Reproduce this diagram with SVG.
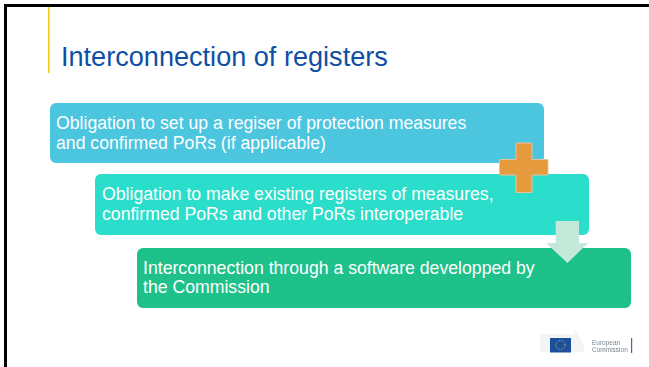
<svg xmlns="http://www.w3.org/2000/svg" width="649" height="367" viewBox="0 0 649 367">
<defs><filter id="soft" x="-5%" y="-5%" width="110%" height="110%"><feGaussianBlur stdDeviation="0.45"/></filter></defs>
<style>
text{font-family:"Liberation Sans",Arial,sans-serif}
.b{font-size:17.660px;fill:#fff}
</style>
<rect width="649" height="367" fill="#fff"/>
<path d="M5.500 367V5.500H649" fill="none" stroke="#000" stroke-width="3"/>
<rect x="48" y="7" width="1.500" height="66" fill="#f5c518"/>
<text id="title" x="61" y="66" font-size="27.100" fill="#0f4fa3">Interconnection of registers</text>
<g id="node1"><rect x="50" y="103" width="494" height="60" rx="6" fill="#4cc5df"/>
<text class="b" x="56" y="128.500">Obligation to set up a regiser of protection measures</text>
<text class="b" x="56" y="148.500">and confirmed PoRs (if applicable)</text></g>
<g id="node2"><rect x="95" y="174" width="494" height="61" rx="6" fill="#2bddcb"/>
<text class="b" x="102" y="199.500">Obligation to make existing registers of measures,</text>
<text class="b" x="102" y="219.500">confirmed PoRs and other PoRs interoperable</text></g>
<g id="node3"><rect x="137" y="248" width="494" height="60" rx="6" fill="#1fc18a"/>
<text class="b" x="143" y="274">Interconnection through a software developped by</text>
<text class="b" x="143" y="293">the Commission</text></g>
<g id="connectors">
<path d="M516 143H532V159.500H548V175H532V192.500H516V175H499.500V159.500H516Z" fill="#e69a3e" stroke="#e3c49a" stroke-width="1"/>
<path d="M555.700 221H579V243H588L567.500 263L546 243H555.700Z" fill="#c4e8da"/>
</g>
<g id="logo" filter="url(#soft)">
<path d="M540 334H574V352H540Z" fill="#f3f4f6"/>
<path d="M574 329L584 345V352H574Z" fill="#f3f4f6"/>
<rect x="550" y="338" width="21" height="14.500" fill="#1c4f9c"/>
<circle cx="560.500" cy="345" r="4.500" fill="none" stroke="#e6c83c" stroke-width="1" stroke-dasharray="1 1.400"/>
<text x="592" y="345" font-size="6.500" fill="#7a858f">European</text>
<text x="592" y="352" font-size="6.500" fill="#7a858f">Commission</text>
<rect x="631" y="338" width="1.200" height="15" fill="#3a6aa8"/>
</g>
</svg>
